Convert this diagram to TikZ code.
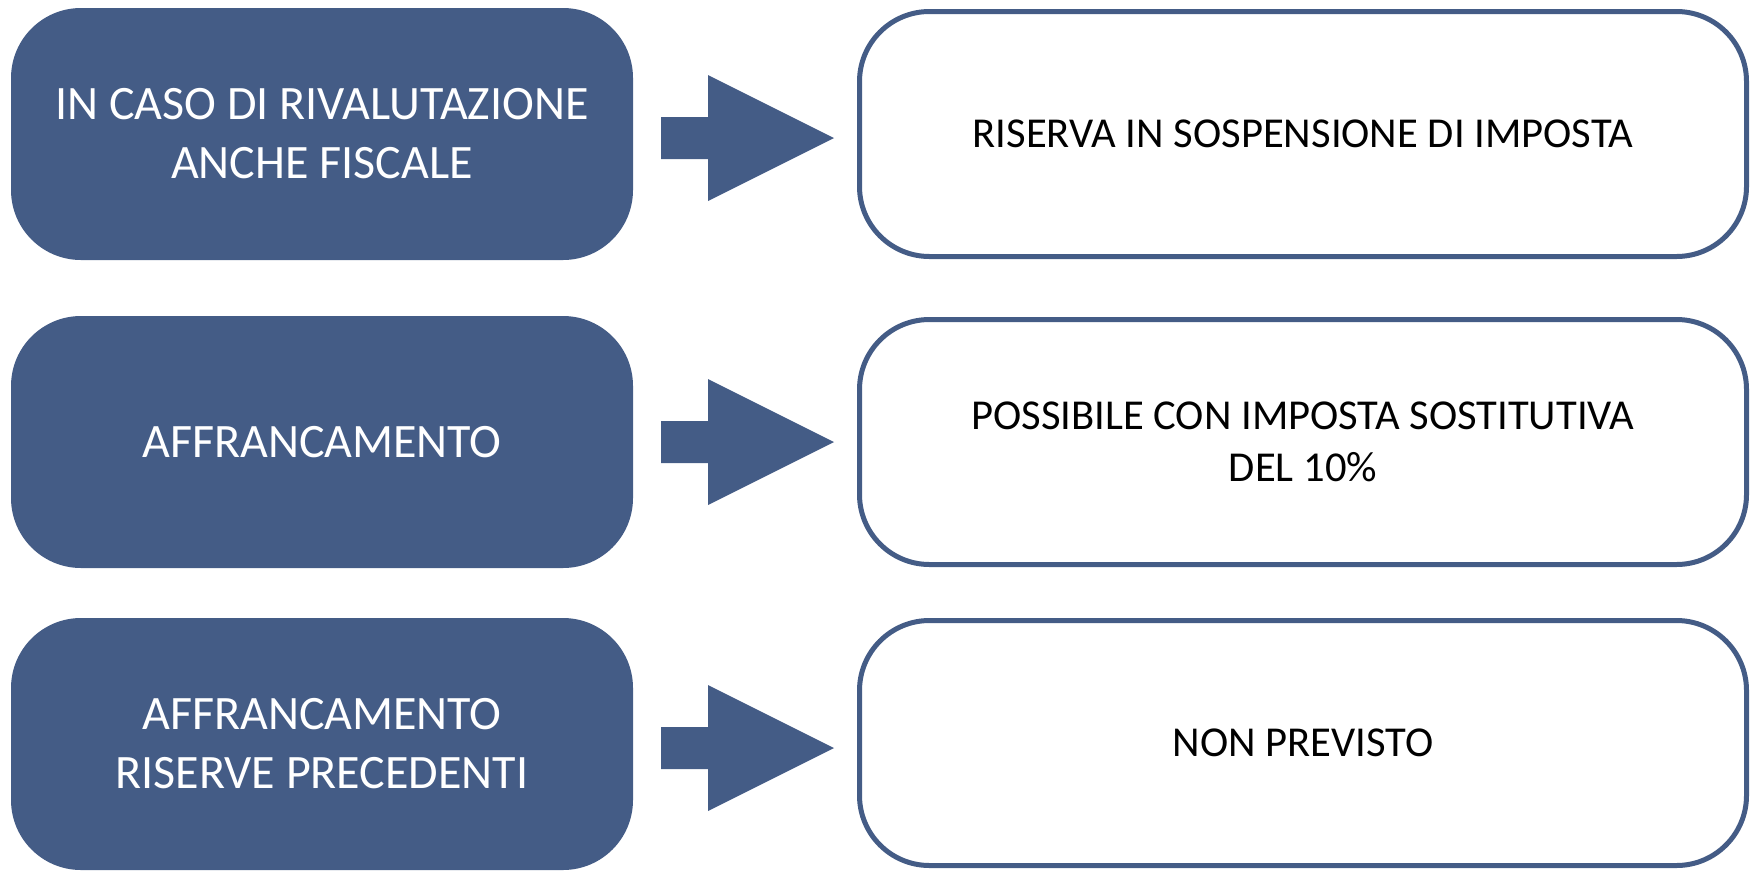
\documentclass[tikz,border=0pt]{standalone}
\usepackage{fontspec}
\setmainfont{Carlito}
\usetikzlibrary{positioning}
\definecolor{dblue}{HTML}{445C86}
\tikzset{
  leftbox/.style={draw=none, fill=dblue, rounded corners=70pt, minimum width=622pt, minimum height=252pt, text=white, align=center, font=\fontsize{48}{59}\selectfont, inner sep=0pt},
  rightbox/.style={draw=dblue, line width=5pt, fill=white, rounded corners=70pt, minimum width=887pt, minimum height=245pt, text=black, align=center, font=\fontsize{42.6}{52}\selectfont, inner sep=0pt},
  blockarrow/.style={fill=dblue, draw=none}
}
\begin{document}
\begin{tikzpicture}[x=1pt,y=-1pt]
\useasboundingbox (0,0) rectangle (1756,871);
\node[leftbox] (l1) at (322,134) {IN CASO DI RIVALUTAZIONE\\ANCHE FISCALE};
\node[leftbox] (l2) at (322,442) {AFFRANCAMENTO};
\node[leftbox] (l3) at (322,744) {AFFRANCAMENTO\\RISERVE PRECEDENTI};
\node[rightbox] (r1) at (1303,134) {RISERVA IN SOSPENSIONE DI IMPOSTA};
\node[rightbox] (r2) at (1303,442) {POSSIBILE CON IMPOSTA SOSTITUTIVA\\DEL 10\%};
\node[rightbox] (r3) at (1303,743) {NON PREVISTO};
\foreach \i/\yy in {1/138,2/442,3/748}{
  \coordinate (a\i) at (661,\yy);
  \fill[blockarrow] (a\i) ++(0,-21) -- ++(47,0) -- ++(0,-42) -- ++(126,63) -- ++(-126,63) -- ++(0,-42) -- ++(-47,0) -- cycle;
}
\end{tikzpicture}
\end{document}
